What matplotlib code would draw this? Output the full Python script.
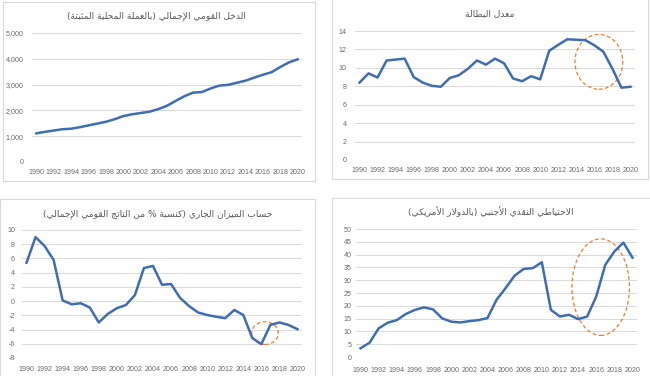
import matplotlib.pyplot as plt
from matplotlib.patches import Rectangle, Ellipse
from matplotlib.ticker import FuncFormatter
import numpy as np

years = np.arange(1990, 2021)

gni = [1110, 1170, 1220, 1270, 1290, 1350, 1420, 1490, 1560, 1660,
       1780, 1850, 1900, 1950, 2050, 2180, 2370, 2550, 2690, 2710,
       2850, 2960, 2990, 3070, 3150, 3270, 3380, 3480, 3680, 3860, 3980]

unemployment = [8.4, 9.4, 8.95, 10.8, 10.9, 11.0, 9.0, 8.4, 8.05, 7.95,
                8.9, 9.2, 9.9, 10.8, 10.35, 11.0, 10.5, 8.85, 8.55, 9.1,
                8.75, 11.85, 12.5, 13.1, 13.05, 13.0, 12.45, 11.75, 9.9, 7.85, 7.95]

current_account = [5.4, 9.0, 7.75, 5.8, 0.1, -0.45, -0.3, -0.9, -3.0, -1.8,
                   -1.0, -0.55, 0.85, 4.65, 4.95, 2.3, 2.4, 0.45, -0.7, -1.6,
                   -1.95, -2.2, -2.4, -1.25, -1.95, -5.2, -6.05, -3.35, -3.0, -3.35, -3.95]

reserves = [3.4, 5.6, 11.2, 13.4, 14.4, 16.8, 18.4, 19.4, 18.6, 15.1,
            13.8, 13.5, 14.0, 14.4, 15.2, 22.3, 26.9, 31.8, 34.4, 34.7,
            37.0, 18.4, 15.8, 16.5, 14.8, 15.8, 23.6, 36.0, 41.2, 44.7, 38.8]

titles = [
    "الدخل القومي الإجمالي (بالعملة المحلية المثبتة)",
    "معدل البطالة",
    "حساب الميزان الجاري (كنسبة % من الناتج القومي الإجمالي)",
    "الاحتياطي النقدي الأجنبي (بالدولار الأمريكي)",
]

# presentation forms: first codepoint (isolated), then final, initial, medial
FORMS = {
    'ا': (0xFE8D, 2), 'أ': (0xFE83, 2), 'إ': (0xFE87, 2), 'آ': (0xFE81, 2),
    'ب': (0xFE8F, 4), 'ة': (0xFE93, 2), 'ت': (0xFE95, 4), 'ث': (0xFE99, 4),
    'ج': (0xFE9D, 4), 'ح': (0xFEA1, 4), 'خ': (0xFEA5, 4), 'د': (0xFEA9, 2),
    'ذ': (0xFEAB, 2), 'ر': (0xFEAD, 2), 'ز': (0xFEAF, 2), 'س': (0xFEB1, 4),
    'ش': (0xFEB5, 4), 'ص': (0xFEB9, 4), 'ض': (0xFEBD, 4), 'ط': (0xFEC1, 4),
    'ظ': (0xFEC5, 4), 'ع': (0xFEC9, 4), 'غ': (0xFECD, 4), 'ف': (0xFED1, 4),
    'ق': (0xFED5, 4), 'ك': (0xFED9, 4), 'ل': (0xFEDD, 4), 'م': (0xFEE1, 4),
    'ن': (0xFEE5, 4), 'ه': (0xFEE9, 4), 'و': (0xFEED, 2), 'ى': (0xFEEF, 2),
    'ي': (0xFEF1, 4),
}
LAM_ALEF = {'آ': 0xFEF5, 'أ': 0xFEF7, 'إ': 0xFEF9, 'ا': 0xFEFB}
MIRROR = {'(': ')', ')': '('}


def shape_arabic(text):
    # merge lam + alef into one unit first
    units = []
    i = 0
    while i < len(text):
        c = text[i]
        if c == 'ل' and i + 1 < len(text) and text[i + 1] in LAM_ALEF:
            units.append(('LA', text[i + 1]))
            i += 2
        else:
            units.append(('C', c))
            i += 1

    def joins_next(u):
        # unit can connect to the letter after it
        return u[0] == 'C' and u[1] in FORMS and FORMS[u[1]][1] == 4

    def joinable(u):
        return u[0] == 'LA' or u[1] in FORMS

    out = []
    for k, u in enumerate(units):
        prev = units[k - 1] if k > 0 else None
        nxt = units[k + 1] if k + 1 < len(units) else None
        jp = prev is not None and joins_next(prev) and joinable(u)
        if u[0] == 'LA':
            out.append(chr(LAM_ALEF[u[1]] + (1 if jp else 0)))
            continue
        c = u[1]
        if c not in FORMS:
            out.append(MIRROR.get(c, c))
            continue
        base, n = FORMS[c]
        jn = n == 4 and nxt is not None and joinable(nxt)
        if jp and jn:
            out.append(chr(base + 3))
        elif jp:
            out.append(chr(base + 1))
        elif jn:
            out.append(chr(base + 2))
        else:
            out.append(chr(base))
    return ''.join(reversed(out))


W, H = 650, 376
fig = plt.figure(figsize=(W / 100, H / 100), dpi=100)


def px_rect(x0, y0, x1, y1):
    return [x0 / W, 1 - y1 / H, (x1 - x0) / W, (y1 - y0) / H]


line_color = '#3F6DB3'
grid_color = '#D9D9D9'
label_color = '#6A6A6A'
circle_color = '#ED7D31'

panels = [
    dict(data=gni, title=titles[0], box=(3, 2, 315, 181), ax=(32, 33, 302, 162),
         title_xy=(156, 16), ylim=(0, 5000), yticks=np.arange(0, 5001, 1000),
         fmt=lambda v, p: f"{int(v):,}", xpad=5, ypad=6, circle=None),
    dict(data=unemployment, title=titles[1], box=(332, -2, 648, 179), ax=(355, 31, 635, 160),
         title_xy=(490, 14), ylim=(0, 14), yticks=np.arange(0, 15, 2),
         fmt=lambda v, p: f"{int(v)}", xpad=5, ypad=6, circle=(2016.5, 10.65, 5.3, 5.95)),
    dict(data=current_account, title=titles[2], box=(0, 199, 315, 380), ax=(22, 230, 302, 358),
         title_xy=(158, 214), ylim=(-8, 10), yticks=np.arange(-8, 11, 2),
         fmt=lambda v, p: f"{int(v)}", xpad=6, ypad=5, circle=(2016.4, -4.5, 2.95, 3.2)),
    dict(data=reserves, title=titles[3], box=(332, 198, 652, 380), ax=(356, 229, 637, 357),
         title_xy=(491, 212), ylim=(0, 50), yticks=np.arange(0, 51, 5),
         fmt=lambda v, p: f"{int(v)}", xpad=7, ypad=3, circle=(2016.5, 27.3, 6.35, 37.7)),
]

for p in panels:
    x0, y0, x1, y1 = p['box']
    fig.patches.append(Rectangle((x0 / W, 1 - y1 / H), (x1 - x0) / W, (y1 - y0) / H,
                                 transform=fig.transFigure, fill=False,
                                 edgecolor='#D9D9D9', linewidth=0.8))

    ax = fig.add_axes(px_rect(*p['ax']))
    ax.plot(years, p['data'], color=line_color, linewidth=1.8, solid_joinstyle='round')
    ax.set_xlim(1989.5, 2020.5)
    ax.set_ylim(*p['ylim'])
    ax.set_yticks(p['yticks'])
    ax.yaxis.set_major_formatter(FuncFormatter(p['fmt']))
    ax.set_xticks(years[::2])
    ax.set_xticklabels([str(y) for y in years[::2]])
    ax.grid(axis='y', color=grid_color, linewidth=0.7)
    ax.set_axisbelow(True)
    for s in ax.spines.values():
        s.set_visible(False)
    ax.tick_params(axis='both', length=0, labelsize=5.1, labelcolor=label_color)
    ax.tick_params(axis='x', pad=p['xpad'])
    ax.tick_params(axis='y', pad=p['ypad'])
    for lbl in ax.get_xticklabels() + ax.get_yticklabels():
        lbl.set_fontfamily('Liberation Sans')

    if p['circle'] is not None:
        cx, cy, w, h = p['circle']
        ax.add_patch(Ellipse((cx, cy), w, h, fill=False, edgecolor=circle_color,
                             linestyle=(0, (3, 2)), linewidth=0.9, clip_on=False))

    tx, ty = p['title_xy']
    fig.text(tx / W, 1 - ty / H, shape_arabic(p['title']), ha='center', va='center',
             fontsize=6.6, color='#595959', family='DejaVu Sans')

fig.savefig('out.png', dpi=100, facecolor='white')
